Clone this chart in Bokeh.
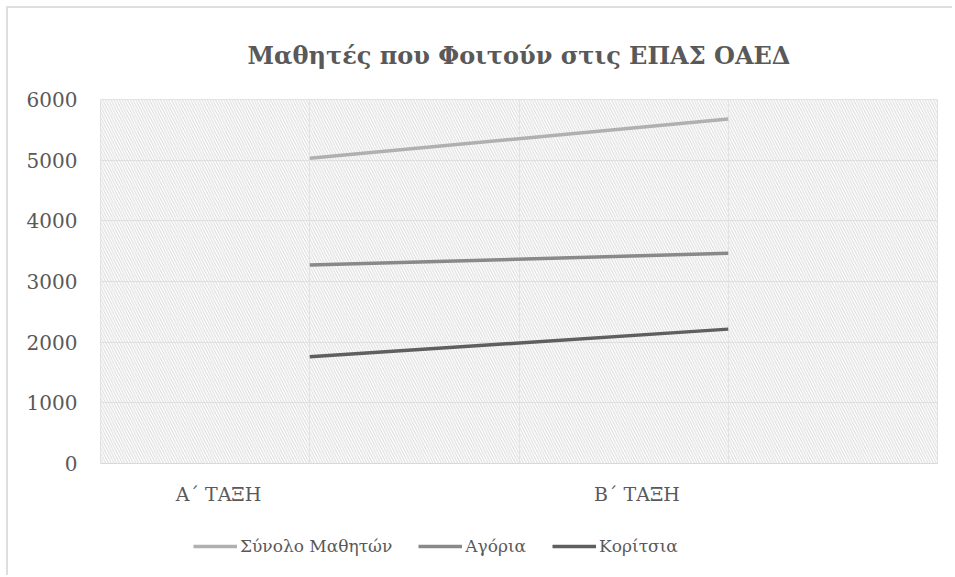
import numpy as np
from bokeh.plotting import figure
from bokeh.layouts import column
from bokeh.models import (FixedTicker, Legend, LegendItem, BoxAnnotation, Range1d, Grid, SingleIntervalTicker)
from bokeh.embed import file_html
from bokeh.resources import INLINE

# ---- data ----
title_text = "Μαθητές που Φοιτούν στις ΕΠΑΣ ΟΑΕΔ"
categories = ["Α΄ ΤΑΞΗ", "Β΄ ΤΑΞΗ"]
series_names = ["Σύνολο Μαθητών", "Αγόρια", "Κορίτσια"]
total_students = [5030, 5680]
boys = [3270, 3465]
girls = [1760, 2215]
series_values = [total_students, boys, girls]
series_colors = ["#b0b0b0", "#898989", "#5f5f5f"]
y_ticks = [0, 1000, 2000, 3000, 4000, 5000, 6000]

FONT = "DejaVu Serif"
TXT = "#595959"

p = figure(width=944, height=512, output_backend="svg", toolbar_location=None,
           x_range=Range1d(0, len(categories)), y_range=Range1d(0, 6000),
           min_border_left=92, min_border_right=15, min_border_top=90, min_border_bottom=57)

# title
p.title.text = title_text
p.title.align = "center"
p.title.text_font = FONT
p.title.text_font_size = "24px"
p.title.text_font_style = "bold"
p.title.text_color = TXT
p.title.standoff = 60

# hatched plot area background
p.add_layout(BoxAnnotation(left=0, right=len(categories), bottom=0, top=6000,
                           fill_alpha=0, line_color=None, hatch_pattern="\\",
                           hatch_color="#d9d9d9", hatch_scale=5.5, hatch_weight=1,
                           level="underlay"))

xs = [i + 0.5 for i in range(len(categories))]
renderers = []
for vals, col in zip(series_values, series_colors):
    r = p.line(xs, vals, line_color=col, line_width=3.5)
    renderers.append(r)

# axes
label_pos = [round(x - 0.218, 3) for x in xs]
p.xaxis.ticker = FixedTicker(ticks=label_pos)
p.xaxis.major_label_overrides = {lp: c for lp, c in zip(label_pos, categories)}
p.xaxis.axis_line_color = "#d9d9d9"
p.xaxis.axis_line_width = 1
p.xaxis.major_tick_line_color = None
p.xaxis.minor_tick_line_color = None
p.xaxis.major_label_text_font = FONT
p.xaxis.major_label_text_font_size = "19px"
p.xaxis.major_label_text_color = TXT
p.xaxis.major_label_standoff = 13

p.yaxis.ticker = FixedTicker(ticks=y_ticks)
p.yaxis.axis_line_color = None
p.yaxis.major_tick_line_color = None
p.yaxis.minor_tick_line_color = None
p.yaxis.major_label_text_font = FONT
p.yaxis.major_label_text_font_size = "20px"
p.yaxis.major_label_text_color = TXT
p.yaxis.major_label_standoff = 17

# grids
p.xgrid.grid_line_color = None
p.add_layout(Grid(dimension=0, ticker=SingleIntervalTicker(interval=0.5), grid_line_color="#e3e3e3"))
p.ygrid.ticker = FixedTicker(ticks=y_ticks)
p.ygrid.grid_line_color = "#e3e3e3"
p.outline_line_color = "#e3e3e3"

# legend strip below the chart
lg = figure(width=944, height=55, output_backend="svg", toolbar_location=None,
            x_range=Range1d(0, 1), y_range=Range1d(0, 1),
            x_axis_location=None, y_axis_location=None,
            min_border_left=0, min_border_right=0, min_border_top=0, min_border_bottom=0)
lg.grid.visible = False
lg.outline_line_color = None
proxies = [lg.line(x=np.array([np.nan, np.nan]), y=np.array([np.nan, np.nan]),
                   line_color=c, line_width=3.5) for c in series_colors]
legend = Legend(items=[LegendItem(label=n, renderers=[r]) for n, r in zip(series_names, proxies)],
                orientation="horizontal", location=(93, 19),
                label_text_font=FONT, label_text_font_size="17px", label_text_color=TXT,
                glyph_width=44, label_standoff=3, spacing=26, border_line_color=None,
                background_fill_alpha=0, margin=0, padding=6)
lg.add_layout(legend)

layout = column(p, lg, spacing=0)
layout.styles = {"border-left": "2px solid #dedede", "border-top": "2px solid #dedede",
                 "margin-left": "6px", "margin-top": "6px"}

open("out.html", "w").write(file_html(layout, INLINE))
